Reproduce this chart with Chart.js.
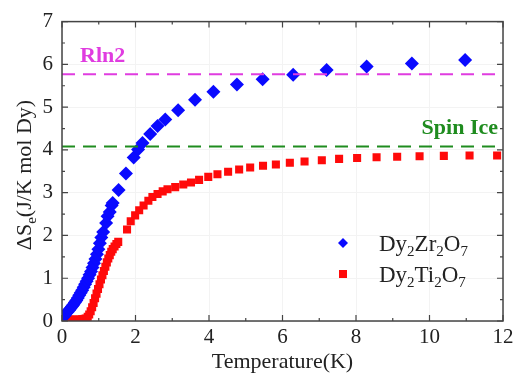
<!DOCTYPE html>
<html>
<head>
<meta charset="utf-8">
<script src="https://cdn.jsdelivr.net/npm/chart.js@4"></script>
<style>
  body { margin: 0; background: #fff; }
  #wrap { width: 525px; height: 375px; }
</style>
</head>
<body>
<div id="wrap"><canvas id="c" width="525" height="375"></canvas></div>
<script>
// Dy2Zr2O7 (blue diamonds)
const zrT = [0.02, 0.05, 0.08, 0.11, 0.15, 0.19, 0.23, 0.27, 0.31, 0.35, 0.39, 0.43, 0.47, 0.51, 0.55, 0.59, 0.63, 0.67, 0.71, 0.75, 0.79, 0.83, 0.87, 0.91, 0.95, 0.99, 1.03, 1.07, 1.12, 1.2, 1.24, 1.3, 1.35, 1.38, 1.54, 1.74, 1.95, 2.07, 2.19, 2.4, 2.6, 2.81, 3.16, 3.62, 4.12, 4.76, 5.46, 6.29, 7.2, 8.29, 9.52, 10.97];
const zrS = [0.08, 0.11, 0.14, 0.18, 0.21, 0.25, 0.29, 0.34, 0.38, 0.43, 0.48, 0.54, 0.60, 0.66, 0.72, 0.79, 0.86, 0.93, 1.00, 1.08, 1.16, 1.25, 1.35, 1.45, 1.56, 1.68, 1.82, 1.95, 2.08, 2.29, 2.45, 2.55, 2.70, 2.76, 3.06, 3.45, 3.82, 4.01, 4.16, 4.37, 4.56, 4.71, 4.93, 5.17, 5.36, 5.53, 5.65, 5.76, 5.87, 5.95, 6.02, 6.10];

// Dy2Ti2O7 (red squares)
const tiT = [0.02, 0.06, 0.10, 0.14, 0.18, 0.22, 0.26, 0.30, 0.34, 0.38, 0.42, 0.46, 0.50, 0.54, 0.58, 0.62, 0.66, 0.70, 0.74, 0.78, 0.82, 0.86, 0.90, 0.94, 0.98, 1.02, 1.06, 1.10, 1.14, 1.18, 1.22, 1.26, 1.30, 1.34, 1.38, 1.43, 1.48, 1.53, 1.77, 1.87, 1.99, 2.10, 2.22, 2.35, 2.46, 2.60, 2.74, 2.87, 3.08, 3.30, 3.51, 3.73, 3.98, 4.23, 4.52, 4.82, 5.12, 5.47, 5.82, 6.2, 6.6, 7.07, 7.54, 8.03, 8.56, 9.12, 9.73, 10.39, 11.09, 11.84];
const tiS = [0.03, 0.03, 0.03, 0.03, 0.03, 0.03, 0.03, 0.03, 0.03, 0.03, 0.03, 0.03, 0.03, 0.04, 0.04, 0.05, 0.06, 0.10, 0.15, 0.23, 0.32, 0.42, 0.53, 0.64, 0.75, 0.86, 0.97, 1.07, 1.17, 1.27, 1.37, 1.46, 1.54, 1.62, 1.68, 1.74, 1.80, 1.85, 2.14, 2.33, 2.47, 2.59, 2.70, 2.81, 2.90, 2.97, 3.03, 3.08, 3.13, 3.19, 3.24, 3.30, 3.37, 3.43, 3.49, 3.54, 3.59, 3.63, 3.66, 3.70, 3.73, 3.76, 3.79, 3.81, 3.83, 3.84, 3.85, 3.86, 3.87, 3.87];

// reference levels
const rln2 = 5.77;
const spinIce = 4.08;
const xRange = [0, 12];

const xMajor = [0, 2, 4, 6, 8, 10, 12];
const xMinor = [1, 3, 5, 7, 9, 11];
const yMajor = [0, 1, 2, 3, 4, 5, 6, 7];
const yMinor = [0.5, 1.5, 2.5, 3.5, 4.5, 5.5, 6.5];

const BLUE = '#0a0aff';
const RED = '#ff0a0a';
const MAGENTA = '#e03ce0';
const GREEN = '#1f8c1f';
const SERIF = '"Liberation Serif", "Times New Roman", serif';

function pts(xs, ys) {
  return xs.map((x, i) => ({ x: x, y: ys[i] }));
}

// draws the box, inward ticks, y title, labels and legend
const decor = {
  id: 'decor',
  afterDatasetsDraw(chart) {
    const ctx = chart.ctx;
    const a = chart.chartArea;
    const xs = chart.scales.x, ys = chart.scales.y;
    ctx.save();
    ctx.strokeStyle = '#444';
    ctx.lineWidth = 1.5;
    ctx.strokeRect(a.left, a.top, a.right - a.left, a.bottom - a.top);
    ctx.lineWidth = 1.2;
    ctx.beginPath();
    function xt(v, len) {
      const p = xs.getPixelForValue(v);
      ctx.moveTo(p, a.bottom); ctx.lineTo(p, a.bottom - len);
      ctx.moveTo(p, a.top); ctx.lineTo(p, a.top + len);
    }
    function yt(v, len) {
      const p = ys.getPixelForValue(v);
      ctx.moveTo(a.left, p); ctx.lineTo(a.left + len, p);
      ctx.moveTo(a.right, p); ctx.lineTo(a.right - len, p);
    }
    xMajor.forEach(v => xt(v, 6));
    xMinor.forEach(v => xt(v, 3));
    yMajor.forEach(v => yt(v, 6));
    yMinor.forEach(v => yt(v, 3));
    ctx.stroke();

    // y axis title with subscript e
    ctx.fillStyle = '#222';
    ctx.textBaseline = 'alphabetic';
    ctx.translate(31, 175);
    ctx.rotate(-Math.PI / 2);
    const big = '22px ' + SERIF, small = '15px ' + SERIF;
    ctx.font = big; const w1 = ctx.measureText('\u0394S').width;
    const w3 = ctx.measureText('(J/K mol Dy)').width;
    ctx.font = small; const w2 = ctx.measureText('e').width;
    let x0 = -(w1 + w2 + w3) / 2;
    ctx.font = big; ctx.fillText('\u0394S', x0, 0);
    ctx.font = small; ctx.fillText('e', x0 + w1, 5);
    ctx.font = big; ctx.fillText('(J/K mol Dy)', x0 + w1 + w2, 0);
    ctx.setTransform(1, 0, 0, 1, 0, 0);

    // level labels
    ctx.font = 'bold 22px ' + SERIF;
    ctx.fillStyle = MAGENTA;
    ctx.textAlign = 'left';
    ctx.fillText('Rln2', 80, 62);
    ctx.fillStyle = GREEN;
    ctx.textAlign = 'right';
    ctx.fillText('Spin Ice', 498, 134);

    // legend
    function formula(parts, x, y) {
      ctx.textAlign = 'left';
      ctx.fillStyle = '#222';
      parts.forEach(p => {
        ctx.font = (p[1] ? '15px ' : '23px ') + SERIF;
        ctx.fillText(p[0], x, y + (p[1] ? 5 : 0));
        x += ctx.measureText(p[0]).width;
      });
    }
    ctx.fillStyle = BLUE;
    ctx.beginPath();
    ctx.moveTo(343, 238); ctx.lineTo(348, 243); ctx.lineTo(343, 248); ctx.lineTo(338, 243);
    ctx.closePath(); ctx.fill();
    ctx.fillStyle = RED;
    ctx.fillRect(339, 270, 8, 8);
    formula([['Dy', 0], ['2', 1], ['Zr', 0], ['2', 1], ['O', 0], ['7', 1]], 379, 251);
    formula([['Dy', 0], ['2', 1], ['Ti', 0], ['2', 1], ['O', 0], ['7', 1]], 379, 282);
    ctx.restore();
  }
};

new Chart(document.getElementById('c'), {
  type: 'scatter',
  data: {
    datasets: [
      {
        label: 'Rln2',
        data: pts(xRange, [rln2, rln2]),
        showLine: true, borderColor: MAGENTA, borderWidth: 2, borderDash: [13, 8],
        pointRadius: 0
      },
      {
        label: 'Spin Ice',
        data: pts(xRange, [spinIce, spinIce]),
        showLine: true, borderColor: GREEN, borderWidth: 2, borderDash: [13, 8],
        pointRadius: 0
      },
      {
        label: 'Dy2Zr2O7',
        data: pts(zrT, zrS),
        pointStyle: 'rectRot', pointRadius: 7,
        backgroundColor: BLUE, borderColor: BLUE, borderWidth: 0
      },
      {
        label: 'Dy2Ti2O7',
        data: pts(tiT, tiS),
        pointStyle: 'rect', pointRadius: 5.7,
        backgroundColor: RED, borderColor: RED, borderWidth: 0
      }
    ]
  },
  options: {
    responsive: false,
    animation: false,
    layout: { padding: { top: 18, right: 22, left: 0, bottom: 0 } },
    plugins: { legend: { display: false }, tooltip: { enabled: false } },
    scales: {
      x: {
        type: 'linear', min: 0, max: 12,
        afterFit: s => { s.height = 54; },
        afterBuildTicks: s => { s.ticks = xMajor.map(v => ({ value: v })); },
        grid: { color: '#f3f3f3', drawTicks: false },
        border: { display: false },
        ticks: { color: '#222', padding: 4, font: { family: SERIF, size: 21 } },
        title: { display: true, text: 'Temperature(K)', color: '#222', padding: 0, font: { family: SERIF, size: 22 } }
      },
      y: {
        type: 'linear', min: 0, max: 7,
        afterFit: s => { s.width = 62; },
        afterBuildTicks: s => { s.ticks = yMajor.map(v => ({ value: v })); },
        grid: { color: '#f3f3f3', drawTicks: false },
        border: { display: false },
        ticks: { color: '#222', padding: 9, font: { family: SERIF, size: 21 } }
      }
    }
  },
  plugins: [decor]
});
</script>
</body>
</html>
